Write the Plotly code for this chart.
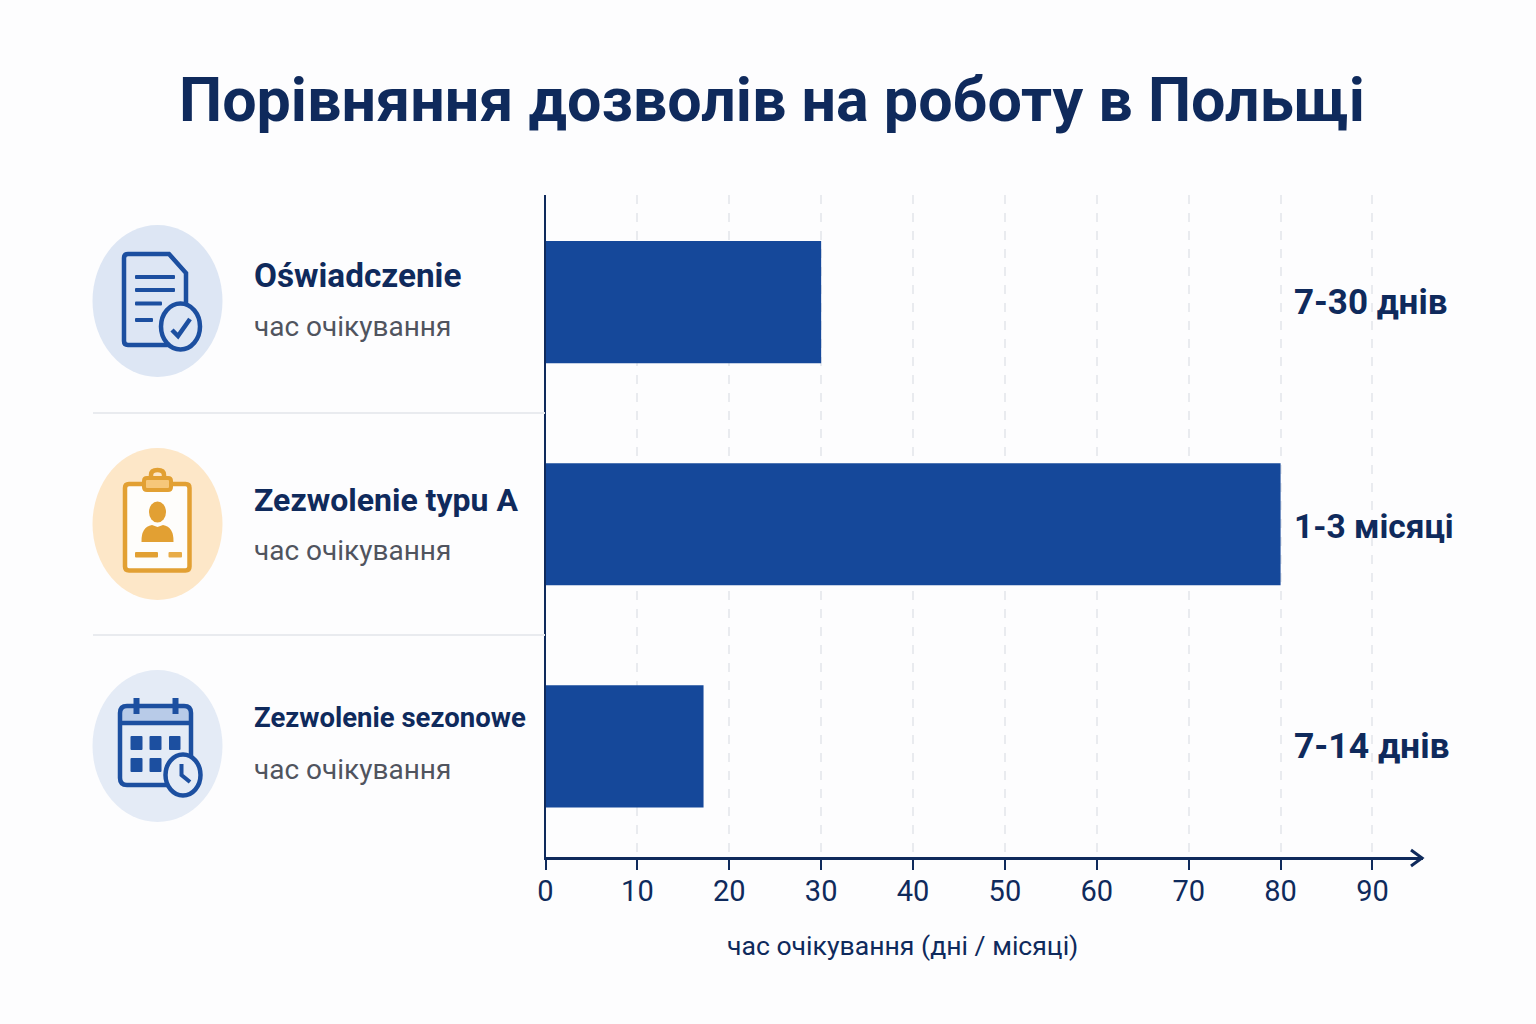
import plotly.graph_objects as go

title_text = "Порівняння дозволів на роботу в Польщі"
permits = ["Oświadczenie", "Zezwolenie typu A", "Zezwolenie sezonowe"]
wait_values = [30, 80, 17.2]
value_labels = ["7-30 днів", "1-3 місяці", "7-14 днів"]
sub_label = "час очікування"
x_ticks = [0, 10, 20, 30, 40, 50, 60, 70, 80, 90]
x_title = "час очікування (дні / місяці)"

NAVY = "#0f2a5c"
BAR = "#15489a"
BLUE = "#1c4fa0"
ORANGE = "#e2a033"
FONT = "Roboto"


def rrect(x0, y0, x1, y1, r):
    return (f"M{x0+r},{y0} L{x1-r},{y0} Q{x1},{y0} {x1},{y0+r} L{x1},{y1-r} Q{x1},{y1} {x1-r},{y1} "
            f"L{x0+r},{y1} Q{x0},{y1} {x0},{y1-r} L{x0},{y0+r} Q{x0},{y0} {x0+r},{y0} Z")


def path(d, color=None, fill=None, width=4.5):
    return dict(type="path", path=d, xref="x2", yref="y2", layer="above",
                line=dict(color=color or "rgba(0,0,0,0)", width=width),
                fillcolor=fill or "rgba(0,0,0,0)")


def oval(cx, cy, rx, ry, color=None, fill=None, width=4.5):
    return dict(type="circle", x0=cx-rx, x1=cx+rx, y0=cy-ry, y1=cy+ry, xref="x2", yref="y2", layer="above",
                line=dict(color=color or "rgba(0,0,0,0)", width=width),
                fillcolor=fill or "rgba(0,0,0,0)")


def box(x0, y0, x1, y1, fill, r=1):
    return path(rrect(x0, y0, x1, y1, r), fill=fill, width=0)


def label(x, y, text, size, color, weight=400, anchor="left"):
    return dict(x=x, y=y, xref="x2", yref="y2", text=text, showarrow=False, xanchor=anchor, yanchor="middle",
                font=dict(family=FONT, size=size, color=color, weight=weight))


fig = go.Figure()

fig.add_trace(go.Bar(
    x=wait_values,
    y=permits,
    orientation="h",
    width=0.55,
    marker_color=BAR,
    marker_line_width=0,
    hoverinfo="skip",
    showlegend=False,
))
# empty trace so the pixel overlay axes exist
fig.add_trace(go.Scatter(x=[], y=[], xaxis="x2", yaxis="y2", showlegend=False))

shapes = []

# separators
shapes.append(path("M93,413 L545,413", color="#e9ebef", width=2))
shapes.append(path("M93,635 L545,635", color="#e9ebef", width=2))

# axis arrow head
shapes.append(path("M1411,850 L1422,858 L1411,866", color=NAVY, width=3))

# icon 1, document with check
shapes.append(oval(157.5, 301, 65, 76, fill="#dde6f4"))
shapes.append(path("M128,254 L169,254 L186,273 L186,341 Q186,345 182,345 L128,345 Q124,345 124,341 L124,258 Q124,254 128,254 Z",
                   color=BLUE))
shapes.append(box(135, 275, 175, 279, BLUE))
shapes.append(box(135, 288, 175, 292, BLUE))
shapes.append(box(135, 301.5, 162, 305.5, BLUE))
shapes.append(box(135, 318, 153, 322, BLUE))
shapes.append(oval(180.5, 326.5, 19.5, 23, color=BLUE, fill="#dde6f4"))
shapes.append(path("M172,330 L178,336 L190,319", color=BLUE))

# icon 2, badge on clipboard
shapes.append(oval(157.5, 524, 65, 76, fill="#fde7c8"))
shapes.append(path(rrect(125, 484, 189.5, 570.5, 4), color=ORANGE, fill="#fefdfb"))
shapes.append(path("M151,478 L151,475 Q151,470 157.5,470 Q164,470 164,475 L164,478", color=ORANGE))
shapes.append(path(rrect(144, 478, 171, 490, 3), color=ORANGE, fill="#f6c77a", width=4))
shapes.append(oval(157.5, 512, 8.5, 10.5, fill=ORANGE))
shapes.append(path("M141.5,542 Q141,527 152,525 L157.5,527 L163,525 Q174,527 173.5,542 Z", fill=ORANGE, width=0))
shapes.append(box(135, 552, 158, 557.5, ORANGE))
shapes.append(box(168.5, 552, 182, 557.5, "#e8ac48"))

# icon 3, calendar with clock
shapes.append(oval(157.5, 746, 65, 76, fill="#e4ebf6"))
shapes.append(path("M120,723 L120,713 Q120,706 127,706 L184,706 Q191,706 191,713 L191,723 Z", fill="#b8cbe8", width=0))
shapes.append(path(rrect(120, 706, 191, 785, 7), color=BLUE))
shapes.append(path("M120,723 L191,723", color=BLUE))
shapes.append(path("M136.5,698 L136.5,714", color=BLUE, width=6))
shapes.append(path("M175.5,698 L175.5,714", color=BLUE, width=6))
for x0, x1 in [(130.5, 142.5), (149.5, 161.5), (169, 180.5)]:
    shapes.append(box(x0, 736, x1, 750, BLUE))
for x0, x1 in [(130.5, 142.5), (149.5, 161.5)]:
    shapes.append(box(x0, 758, x1, 772, BLUE))
shapes.append(oval(183, 775, 17.5, 20.5, color=BLUE, fill="#e4ebf6"))
shapes.append(path("M181.5,764 L181.5,775 L190,782", color=BLUE, width=4))

annotations = [label(772, 100, title_text, 61, NAVY, 700, "center")]
name_y = [275, 500, 717]
name_size = [33.3, 32, 27.5]
sub_y = [326, 550, 769]
value_y = [302, 526, 746]
value_size = [35, 33.5, 35.5]
for i, name in enumerate(permits):
    annotations.append(label(252, name_y[i], name, name_size[i], NAVY, 700))
    annotations.append(label(252, sub_y[i], sub_label, 28, "#50545e"))
    annotations.append(label(1292, value_y[i], value_labels[i], value_size[i], NAVY, 700))
annotations.append(label(902, 945, x_title, 26.6, NAVY, 400, "center"))

fig.update_layout(
    width=1536,
    height=1024,
    margin=dict(l=0, r=0, t=0, b=0, autoexpand=False),
    paper_bgcolor="#fdfdfe",
    plot_bgcolor="rgba(0,0,0,0)",
    font=dict(family=FONT, color=NAVY),
    xaxis=dict(
        domain=[545.5 / 1536, 1423 / 1536],
        range=[0, 95.5],
        tickvals=x_ticks,
        ticks="outside",
        ticklen=10,
        tickwidth=2,
        tickcolor=NAVY,
        tickfont=dict(size=29, color=NAVY),
        ticklabelstandoff=-4,
        showline=True,
        linecolor=NAVY,
        linewidth=2.5,
        showgrid=True,
        gridcolor="#e9ebef",
        griddash="dash",
        gridwidth=1.5,
        zeroline=False,
    ),
    yaxis=dict(
        domain=[1 - 857 / 1024, 1 - 195 / 1024],
        range=[2.498, -0.482],
        type="category",
        showticklabels=False,
        ticks="",
        showline=True,
        linecolor=NAVY,
        linewidth=2,
        showgrid=False,
        zeroline=False,
    ),
    xaxis2=dict(domain=[0, 1], range=[0, 1536], visible=False, anchor="y2"),
    yaxis2=dict(domain=[0, 1], range=[1024, 0], visible=False, anchor="x2"),
    shapes=shapes,
    annotations=annotations,
)

fig.write_html("out.html", config={"displayModeBar": False}, post_script="document.body.style.margin='0';")
